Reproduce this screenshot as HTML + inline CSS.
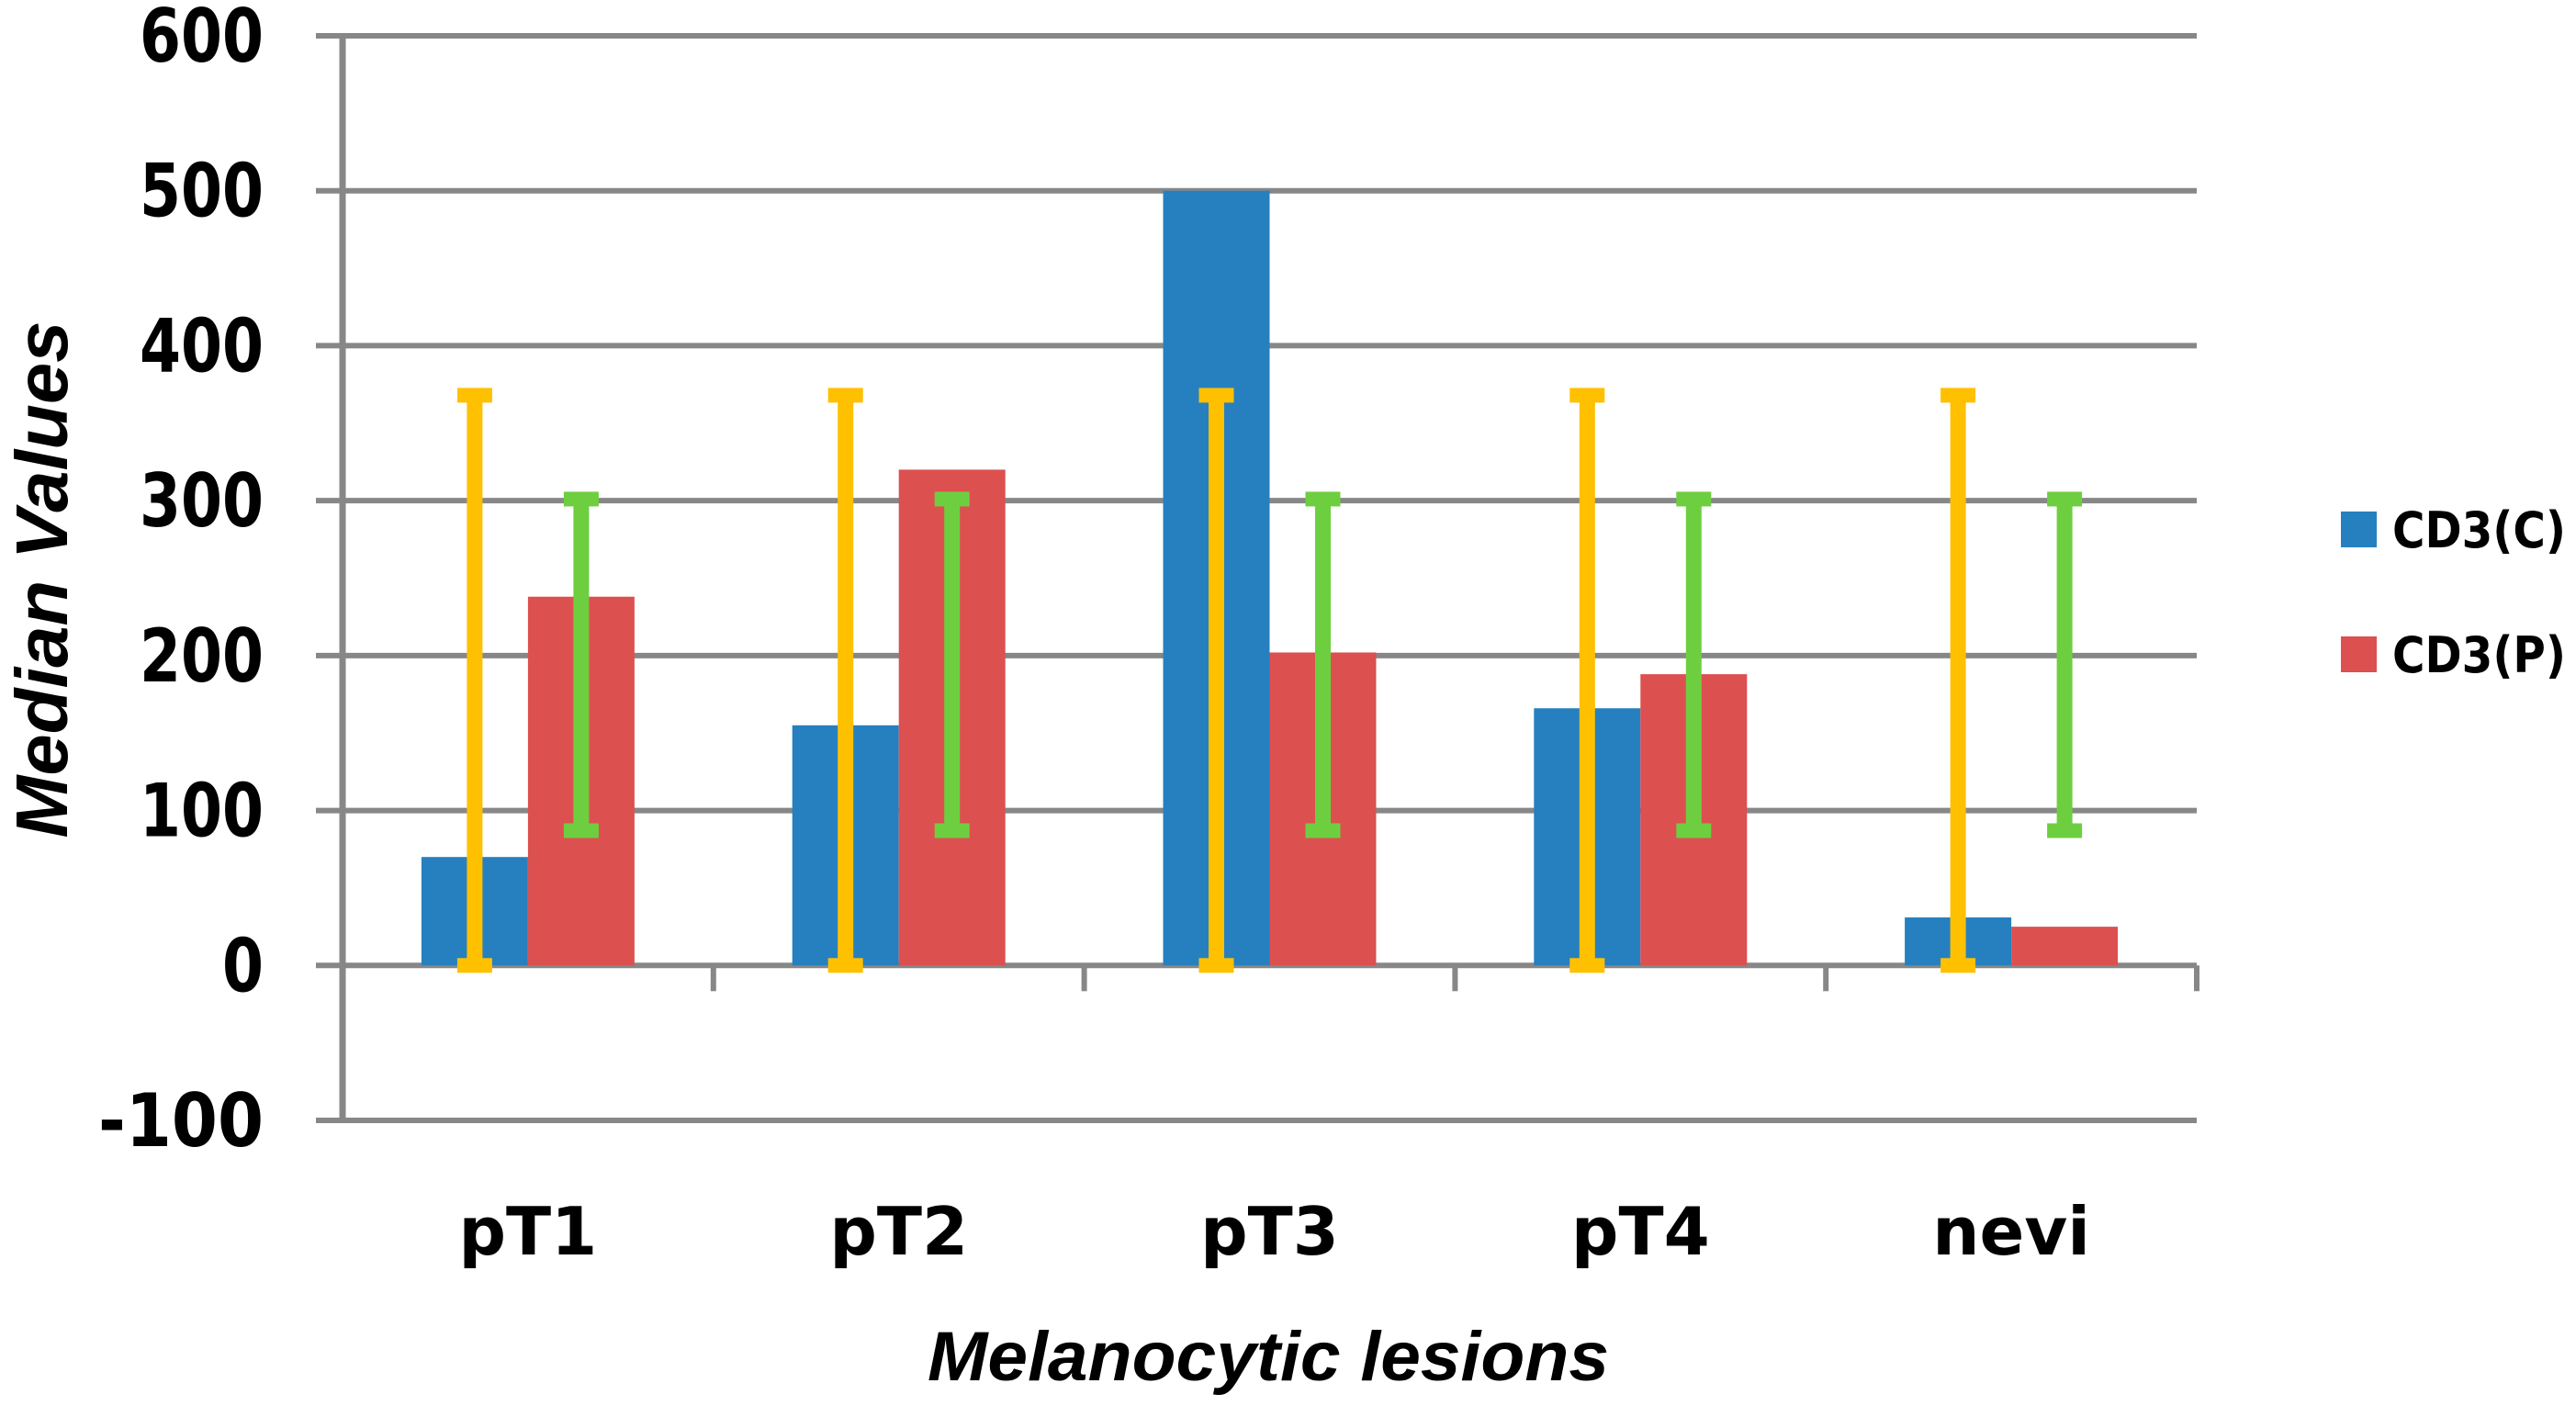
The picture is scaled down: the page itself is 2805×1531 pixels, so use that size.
<!DOCTYPE html>
<html><head><meta charset="utf-8"><style>
html,body{margin:0;padding:0;background:#fff;}
svg{display:block;}
</style></head><body>
<svg id="chart" width="2805" height="1531" viewBox="0 0 2805 1531" xmlns="http://www.w3.org/2000/svg"></svg>
<script>
const categories = ["pT1","pT2","pT3","pT4","nevi"];
const seriesC = [70,155,500,166,31];
const seriesP = [238,320,202,188,25];
const errC = [[0,368],[0,368],[0,368],[0,368],[0,368]];
const errP = [[87,301],[87,301],[87,301],[87,301],[87,301]];
const yTicks = [-100,0,100,200,300,400,500,600];
const seriesNames = ["CD3(C)","CD3(P)"];

const NS = "http://www.w3.org/2000/svg";
const svg = document.getElementById('chart');
const X0 = 373, X1 = 2392, catW = (X1 - X0) / categories.length;
const yMin = -100, yMax = 600, Y_TOP = 39, Y_BOT = 1220;
function y(v){ return Y_BOT - (v - yMin) / (yMax - yMin) * (Y_BOT - Y_TOP); }
function xc(i){ return X0 + catW * (i + 0.5); }
const BW = 116;
function mk(tag, attrs, text){
  const e = document.createElementNS(NS, tag);
  for (const k in attrs) e.setAttribute(k, attrs[k]);
  if (text !== undefined) e.textContent = text;
  svg.appendChild(e);
  return e;
}
yTicks.forEach(t => {
  const g = mk('line', {x1:344, x2:X1, y1:y(t), y2:y(t), stroke:'#878787', 'stroke-width':6});
  
  
  const s = String(t);
  const lb = mk('text', {x:287, y:y(t)+28, 'text-anchor':'end', 'font-family':'DejaVu Sans, sans-serif', 'font-weight':'bold', 'font-size':80, fill:'#000', textLength: s.length*45, lengthAdjust:'spacingAndGlyphs'}, s);
  
  
});
const ax = mk('line', {x1:X0, x2:X0, y1:Y_TOP-3, y2:Y_BOT+3, stroke:'#878787', 'stroke-width':7});


for (let k = 1; k <= categories.length; k++) {
  const tk = mk('line', {x1:X0+catW*k, x2:X0+catW*k, y1:y(0), y2:y(0)+28, stroke:'#878787', 'stroke-width':6});
  
  
}
categories.forEach((c, i) => {
  const b1 = mk('rect', {x:xc(i)-BW, y:y(seriesC[i]), width:BW, height:y(0)-y(seriesC[i]), fill:'#2680BF'});
  
  
  const b2 = mk('rect', {x:xc(i), y:y(seriesP[i]), width:BW, height:y(0)-y(seriesP[i]), fill:'#DC5050'});
  
  
});
function errbar(cx, lo, hi, col, name){
  const l = mk('line', {x1:cx, x2:cx, y1:y(hi), y2:y(lo), stroke:col, 'stroke-width':17});
  
  
  [lo, hi].forEach(v => {
    const cap = mk('rect', {x:cx-19, y:y(v)-8, width:38, height:16, fill:col});
    
    
  });
}
categories.forEach((c, i) => {
  errbar(xc(i)-BW/2, errC[i][0], errC[i][1], '#FFC000', 'error-bar-cd3c-' + c);
  errbar(xc(i)+BW/2, errP[i][0], errP[i][1], '#6DCF3F', 'error-bar-cd3p-' + c);
});
categories.forEach((c, i) => {
  const t = mk('text', {x:xc(i), y:1366, 'text-anchor':'middle', 'font-family':'DejaVu Sans, sans-serif', 'font-weight':'bold', 'font-size':72, fill:'#000'}, c);
  
  
});
const xt = mk('text', {x:1381, y:1503, 'text-anchor':'middle', 'font-family':'Liberation Sans, sans-serif', 'font-style':'italic', 'font-weight':'bold', 'font-size':76, fill:'#000', textLength:742, lengthAdjust:'spacingAndGlyphs'}, 'Melanocytic lesions');


const yt = mk('text', {x:0, y:0, 'text-anchor':'middle', 'font-family':'Liberation Sans, sans-serif', 'font-style':'italic', 'font-weight':'bold', 'font-size':80, fill:'#000', textLength:563, lengthAdjust:'spacingAndGlyphs', transform:'translate(73,631) rotate(-90)'}, 'Median Values');


const legCols = ['#2680BF','#DC5050'];
seriesNames.forEach((n, k) => {
  const top = 557 + k*136;
  const sw = mk('rect', {x:2549, y:top, width:39, height:39, fill:legCols[k]});
  
  
  const lt = mk('text', {x:2605, y:top+39, 'font-family':'DejaVu Sans, sans-serif', 'font-weight':'bold', 'font-size':54, fill:'#000', textLength:189, lengthAdjust:'spacingAndGlyphs'}, n);
  
  
});
</script>
</body></html>
